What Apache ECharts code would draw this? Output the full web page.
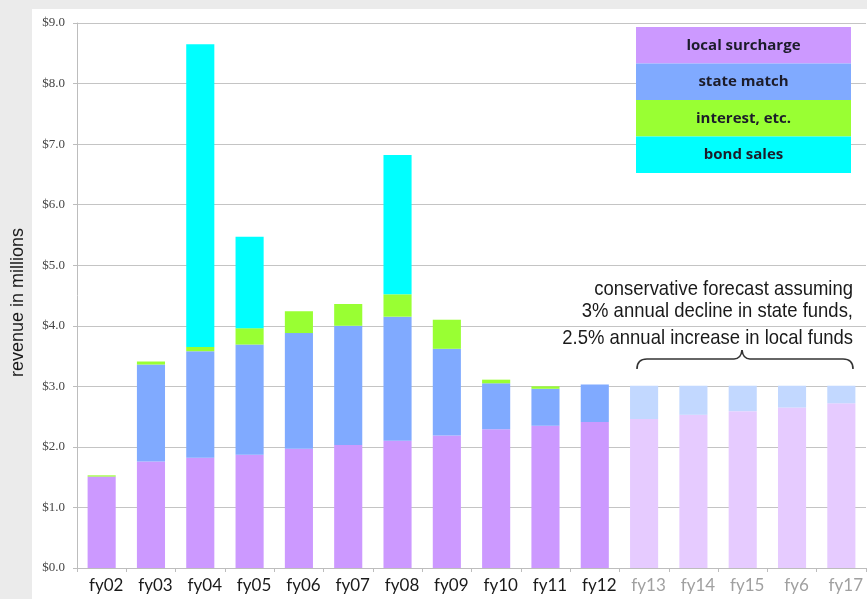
<!DOCTYPE html>
<html>
<head>
<meta charset="utf-8">
<script src="https://cdn.jsdelivr.net/npm/echarts@6/dist/echarts.min.js"></script>
<style>
  html, body { margin: 0; padding: 0; background: #ebebeb; }
  #wrap { position: relative; width: 867px; height: 599px; background: #ebebeb; }
  #panel { position: absolute; left: 32px; top: 9px; width: 835px; height: 590px; background: #ffffff; }
  #chart { position: absolute; left: 0; top: 0; width: 867px; height: 599px; }
</style>
</head>
<body>
<div id="wrap">
  <div id="panel"></div>
  <div id="chart"></div>
</div>
<script>
const categories = ['fy02','fy03','fy04','fy05','fy06','fy07','fy08','fy09','fy10','fy11','fy12','fy13','fy14','fy15','fy6','fy17'];
const forecastCategories = ['fy13','fy14','fy15','fy6','fy17'];
const localSurcharge = [1.51, 1.76, 1.82, 1.87, 1.97, 2.03, 2.10, 2.19, 2.29, 2.35, 2.41, 2.46, 2.53, 2.59, 2.65, 2.72];
const stateMatch     = [0.00, 1.60, 1.76, 1.82, 1.91, 1.97, 2.05, 1.43, 0.76, 0.61, 0.62, 0.55, 0.48, 0.42, 0.36, 0.29];
const interest       = [0.02, 0.05, 0.07, 0.27, 0.36, 0.36, 0.37, 0.48, 0.06, 0.04, 0.00, 0, 0, 0, 0, 0];
const bondSales      = [0, 0, 5.00, 1.51, 0, 0, 2.30, 0, 0, 0, 0, 0, 0, 0, 0, 0];
const yTicks = [0, 1, 2, 3, 4, 5, 6, 7, 8, 9];
const seriesNames = ['local surcharge', 'state match', 'interest, etc.', 'bond sales'];
const annotationLines = ['conservative forecast assuming', '3% annual decline in state funds,', '2.5% annual increase in local funds'];

const colors = ['#cc99ff', '#80aaff', '#99ff33', '#00ffff'];
const forecastColors = ['#e6cbff', '#c2d8ff', '#d6ffad', '#b3ffff'];

function build(values, idx) {
  return values.map((v, i) => {
    if (forecastCategories.indexOf(categories[i]) >= 0) {
      return { value: v, itemStyle: { color: forecastColors[idx] } };
    }
    return v;
  });
}

const chart = echarts.init(document.getElementById('chart'), null, { renderer: 'canvas' });

// legend blocks
const legendX = 636, legendY = 27, legendW = 215, rowH = 36.5;
const graphics = [];
seriesNames.forEach((n, i) => {
  graphics.push({
    type: 'rect',
    shape: { x: legendX, y: legendY + i * rowH, width: legendW, height: rowH },
    style: { fill: colors[i] },
    z: 10
  });
  graphics.push({
    type: 'text',
    x: legendX + legendW / 2,
    y: legendY + i * rowH + rowH / 2,
    style: {
      text: n, fill: '#1c1c2a', font: 'bold 15px "Open Sans", sans-serif',
      align: 'center', verticalAlign: 'middle'
    },
    z: 11
  });
});
// annotation
const annY = [289.5, 311, 338.5];
annotationLines.forEach((t, i) => {
  graphics.push({
    type: 'text', x: 853, y: annY[i], scaleX: 0.88,
    style: { text: t, fill: '#1a1a1a', font: '21px "Liberation Sans", Arial, sans-serif', align: 'right', verticalAlign: 'middle' },
    z: 11
  });
});
// brace
const braceStyle = { stroke: '#333', lineWidth: 1.6, fill: null };
const braceParts = [
  { type: 'bezierCurve', shape: { x1: 637, y1: 369, cpx1: 637, cpy1: 359, x2: 647, y2: 359 } },
  { type: 'line', shape: { x1: 647, y1: 359, x2: 734, y2: 359 } },
  { type: 'bezierCurve', shape: { x1: 734, y1: 359, cpx1: 741, cpy1: 359, x2: 742, y2: 350 } },
  { type: 'bezierCurve', shape: { x1: 742, y1: 350, cpx1: 743, cpy1: 359, x2: 750, y2: 359 } },
  { type: 'line', shape: { x1: 750, y1: 359, x2: 843, y2: 359 } },
  { type: 'bezierCurve', shape: { x1: 843, y1: 359, cpx1: 853, cpy1: 359, x2: 853, y2: 369 } }
];
braceParts.forEach(p => { p.style = braceStyle; p.z = 11; graphics.push(p); });

const option = {
  backgroundColor: 'transparent',
  animation: false,
  grid: { left: 77, right: 1, top: 23, bottom: 31, containLabel: false, outerBoundsMode: 'none' },
  xAxis: {
    type: 'category',
    data: categories,
    axisLine: { lineStyle: { color: '#bdbdbd', width: 1 } },
    axisTick: { show: true, alignWithLabel: false, length: 4, lineStyle: { color: '#bdbdbd' } },
    axisLabel: {
      fontFamily: 'Lato, "Open Sans", sans-serif', fontSize: 17, margin: 9,
      padding: [0, 0, 0, 9],
      color: function (v) { return forecastCategories.indexOf(v) >= 0 ? '#a0a0a0' : '#1a1a1a'; }
    }
  },
  yAxis: {
    type: 'value',
    min: yTicks[0], max: yTicks[yTicks.length - 1], interval: 1,
    name: 'revenue in millions',
    nameLocation: 'middle',
    nameGap: 50,
    nameTextStyle: { fontFamily: '"Liberation Sans", Arial, sans-serif', fontSize: 18, color: '#1a1a1a', padding: [0, 14, 0, 0] },
    axisLine: { show: true, lineStyle: { color: '#bdbdbd' } },
    axisTick: { show: true, length: 4, lineStyle: { color: '#bdbdbd' } },
    splitLine: { lineStyle: { color: '#c4c4c4', width: 1.2 } },
    axisLabel: {
      fontFamily: '"Liberation Serif", "Times New Roman", serif', fontSize: 13, color: '#444', margin: 12,
      formatter: v => '$' + v.toFixed(1)
    }
  },
  series: [localSurcharge, stateMatch, interest, bondSales].map((arr, i) => ({
    name: seriesNames[i],
    type: 'bar',
    stack: 'total',
    barWidth: '57%',
    itemStyle: { color: colors[i] },
    data: build(arr, i)
  })),
  graphic: graphics
};
chart.setOption(option);
</script>
</body>
</html>
